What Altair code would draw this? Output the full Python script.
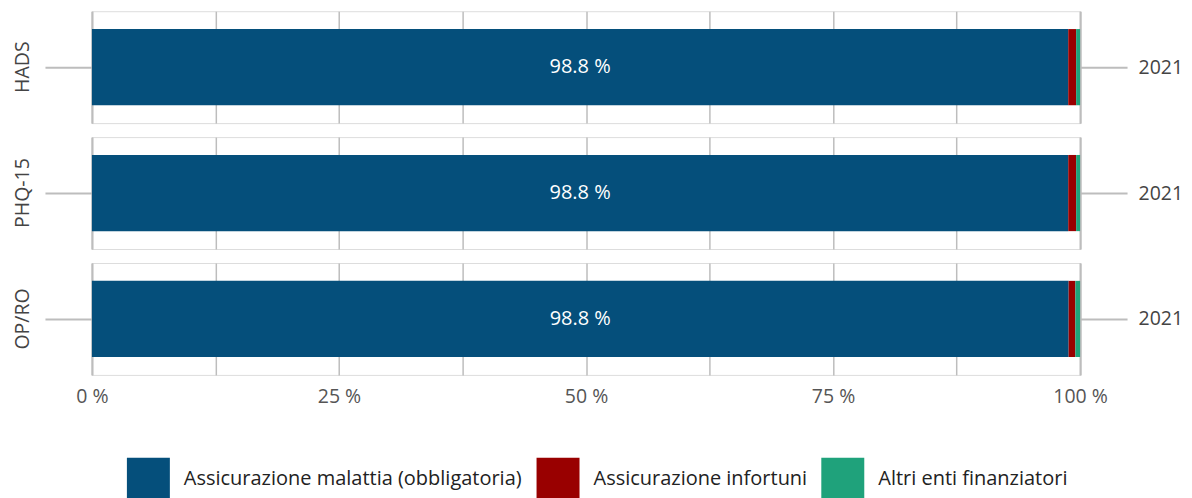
import altair as alt
import pandas as pd

measures = ["HADS", "PHQ-15", "OP/RO"]
years = ["2021", "2021", "2021"]
categories = [
    "Assicurazione malattia (obbligatoria)",
    "Assicurazione infortuni",
    "Altri enti finanziatori",
]
colors = ["#054f7b", "#990000", "#1fa27b"]
malattia = [98.8, 98.8, 98.84]
infortuni = [0.8, 0.8, 0.68]
altri = [0.4, 0.4, 0.48]
x_ticks = [0, 12.5, 25, 37.5, 50, 62.5, 75, 87.5, 100]

FONT = "Open Sans"
GRID = "#bdbdbd"
FS = 19.5

rows = []
for i, m in enumerate(measures):
    for k, (cat, vals) in enumerate(zip(categories, [malattia, infortuni, altri])):
        rows.append({"measure": m, "year": years[i], "category": cat,
                     "value": vals[i], "ord": k})
df = pd.DataFrame(rows)


def panel(i, last):
    d = df[df.measure == measures[i]]
    xaxis = alt.Axis(
        values=x_ticks, grid=True, gridColor=GRID, gridWidth=1.5,
        ticks=False, domain=False, labels=last, labelFlush=False,
        labelExpr="datum.value % 25 == 0 ? format(datum.value, 'd') + ' %' : ''",
        labelFontSize=FS, labelColor="#555", labelPadding=13, title=None,
        labelFont=FONT,
    )
    yaxis = alt.Axis(
        labelAngle=-90, tickSize=47, tickColor=GRID, tickWidth=2,
        labelPadding=12, labelFontSize=FS, labelColor="#444", labelFont=FONT,
        domain=True, domainColor=GRID, domainWidth=2, title=None,
    )
    bars = alt.Chart(d).mark_bar().encode(
        x=alt.X("value:Q", stack="zero",
                scale=alt.Scale(domain=[0, 100], nice=False), axis=xaxis),
        y=alt.Y("measure:N", axis=yaxis,
                scale=alt.Scale(paddingInner=0.19, paddingOuter=0.19)),
        color=alt.Color(
            "category:N",
            scale=alt.Scale(domain=categories, range=colors),
            legend=alt.Legend(
                orient="none", legendX=35, legendY=447, direction="horizontal",
                title=None, symbolType="square", symbolSize=1849,
                symbolStrokeWidth=0, labelFontSize=20, labelFont=FONT,
                labelColor="#222", labelOffset=14, columnPadding=14,
                labelLimit=500,
            ),
        ),
        order=alt.Order("ord:Q"),
    )
    text = alt.Chart(d).transform_filter(alt.datum.ord == 0).transform_calculate(
        mid="datum.value / 2",
        label="format(datum.value, '.1f') + ' %'",
    ).mark_text(color="white", fontSize=20, font=FONT).encode(
        x=alt.X("mid:Q"),
        y=alt.Y("measure:N"),
        text="label:N",
    )
    right = alt.Chart(d).transform_filter(alt.datum.ord == 0).mark_point(
        opacity=0
    ).encode(
        y=alt.Y("year:N", axis=alt.Axis(
            orient="right", tickSize=47, tickColor=GRID, tickWidth=2,
            labelPadding=11, labelFontSize=FS, labelColor="#444",
            labelFont=FONT, labelAngle=0,
            domain=True, domainColor=GRID, domainWidth=2, title=None,
        )),
    )
    return alt.layer(alt.layer(bars, text), right).resolve_scale(
        y="independent"
    ).properties(width=989, height=112)


chart = alt.vconcat(
    panel(0, False), panel(1, False), panel(2, True), spacing=12
).properties(
    padding={"left": 4, "top": 2, "right": 0, "bottom": 0}
).configure_view(stroke=None).configure(font=FONT)

chart.save("out.html", embed_options={"renderer": "svg", "actions": False})
